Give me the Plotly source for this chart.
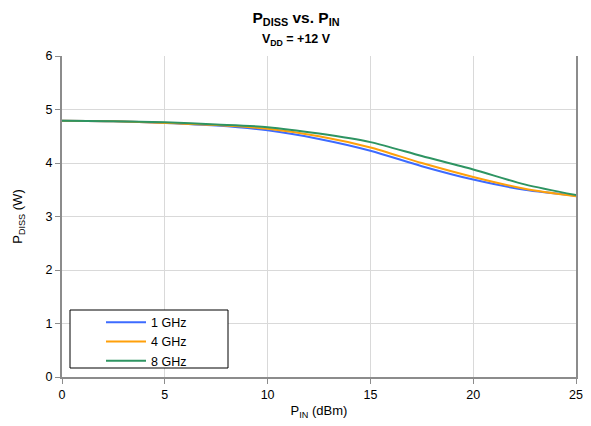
import plotly.graph_objects as go

p_in = [0, 2.5, 5, 7.5, 10, 12.5, 15, 17.5, 20, 22.5, 25]
pdiss_1ghz = [4.79, 4.78, 4.75, 4.70, 4.61, 4.45, 4.23, 3.94, 3.69, 3.50, 3.39]
pdiss_4ghz = [4.79, 4.78, 4.75, 4.71, 4.64, 4.50, 4.29, 4.00, 3.74, 3.52, 3.38]
pdiss_8ghz = [4.79, 4.78, 4.76, 4.72, 4.67, 4.55, 4.39, 4.13, 3.88, 3.60, 3.40]
series_names = ["1 GHz", "4 GHz", "8 GHz"]
colors = ["#3D6BFF", "#FFA00A", "#2E9462"]

fig = go.Figure()
for name, ys, c in zip(series_names, [pdiss_1ghz, pdiss_4ghz, pdiss_8ghz], colors):
    fig.add_trace(go.Scatter(x=p_in, y=ys, name=name, mode="lines",
                             line=dict(color=c, width=2, shape="spline", smoothing=0.8)))

# page is offset by the default 8px body margin
OFF = 8
W, H = 591 - OFF, 426 - OFF
L, R, T, B = 62 - OFF, 15, 56 - OFF, 49
pw, ph = W - L - R, H - T - B

def px(xp):
    return (xp - OFF - L) / pw

def py(yp):
    return (H - B - (yp - OFF)) / ph

fig.add_shape(type="rect", xref="paper", yref="paper",
              x0=px(70), x1=px(228), y0=py(368), y1=py(310),
              line=dict(color="black", width=1), fillcolor="white", layer="above")

fig.update_layout(
    width=W, height=H,
    margin=dict(l=L, r=R, t=T, b=B, autoexpand=False),
    paper_bgcolor="white", plot_bgcolor="white",
    font=dict(family="Liberation Sans, Arial, sans-serif", size=12, color="black"),
    showlegend=True,
    legend=dict(x=px(101), y=py(307.5), xanchor="left", yanchor="top",
                bgcolor="rgba(0,0,0,0)", borderwidth=0,
                font=dict(size=12.5), itemwidth=40, tracegroupgap=0),
    xaxis=dict(range=[0, 25], tickvals=[0, 5, 10, 15, 20, 25],
               showgrid=True, gridcolor="#D9D9D9", gridwidth=1,
               showline=True, linecolor="#8C8C8C", linewidth=2,
               ticks="outside", ticklen=5, tickcolor="#8C8C8C",
               tickfont=dict(size=12.5),
               zeroline=False, automargin=False,
               title=dict(text="P<sub>IN</sub> (dBm)", standoff=5, font=dict(size=13))),
    yaxis=dict(range=[0, 6], tickvals=[0, 1, 2, 3, 4, 5, 6],
               showgrid=True, gridcolor="#D9D9D9", gridwidth=1,
               showline=True, linecolor="#8C8C8C", linewidth=2, mirror=True,
               ticks="outside", ticklen=5, tickcolor="#8C8C8C",
               tickfont=dict(size=12.5),
               zeroline=False, automargin=False,
               title=dict(text="P<sub>DISS</sub> (W)", standoff=20, font=dict(size=13))),
    title=dict(text="<b>P<sub>DISS</sub> vs. P<sub>IN</sub></b><br><span style='font-size:12.5px'><b>V<sub>DD</sub> = +12 V</b></span>",
               x=(296 - OFF) / W, xanchor="center", xref="container",
               y=1 - (23 - OFF) / H, yanchor="middle", font=dict(size=15.5)),
)

fig.write_html("out.html")
